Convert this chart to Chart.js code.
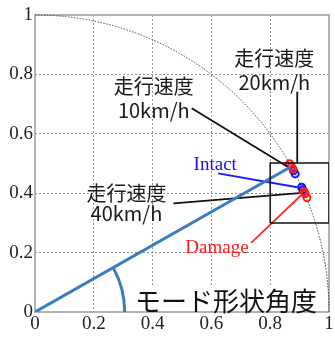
<!DOCTYPE html>
<html>
<head>
<meta charset="utf-8">
<script src="https://cdn.jsdelivr.net/npm/chart.js@4/dist/chart.umd.min.js"></script>
<style>
  body { margin: 0; background: #fff; }
  #wrap { width: 335px; height: 338px; }
</style>
</head>
<body>
<div id="wrap"><canvas id="modeChart" width="335" height="338"></canvas></div>
<script>
// tick labels
const tickVals = [0, 0.2, 0.4, 0.6, 0.8, 1];
const tickLabels = ['0', '0.2', '0.4', '0.6', '0.8', '1'];

// mode shape points
const intactX = [0.879, 0.885, 0.907, 0.911];
const intactY = [0.476, 0.465, 0.420, 0.412];
const damageX = [0.866, 0.872, 0.877, 0.915, 0.919, 0.925];
const damageY = [0.499, 0.490, 0.482, 0.406, 0.398, 0.385];

// line from origin showing the angle
const angleLineX = [0, 0.869];
const angleLineY = [0, 0.488];
const angleArcR = 0.305;

// zoom box
const boxX = [0.8, 1.0, 1.0, 0.8, 0.8];
const boxY = [0.3, 0.3, 0.502, 0.502, 0.3];

// leader lines
const lead20X = [0.892, 0.892];
const lead20Y = [0.742, 0.502];
const lead10X = [0.533, 0.859];
const lead10Y = [0.686, 0.489];
const lead40X = [0.471, 0.899];
const lead40Y = [0.366, 0.400];
const leadIntactX = [0.623, 0.892];
const leadIntactY = [0.467, 0.420];
const leadDamageX = [0.735, 0.906];
const leadDamageY = [0.233, 0.394];

// annotations [text, x, y]
const speedLabels = [
  ['走行速度', 0.814, 0.854], ['20km/h', 0.814, 0.772],
  ['走行速度', 0.404, 0.759], ['10km/h', 0.404, 0.678],
  ['走行速度', 0.311, 0.400], ['40km/h', 0.311, 0.332]
];
const intactLabel = ['Intact', 0.613, 0.495];
const damageLabel = ['Damage', 0.619, 0.216];
const angleLabel = ['モード形状角度', 0.650, 0.035];

function pts(xs, ys) {
  return xs.map((x, i) => ({ x: x, y: ys[i] }));
}

function lineSet(xs, ys, color, width) {
  return {
    data: pts(xs, ys),
    showLine: true,
    borderColor: color,
    borderWidth: width,
    pointRadius: 0,
    fill: false
  };
}

const drawExtras = {
  id: 'drawExtras',
  beforeDatasetsDraw(chart) {
    const ctx = chart.ctx;
    const xs = chart.scales.x, ys = chart.scales.y;
    const ca = chart.chartArea;
    const x0 = xs.getPixelForValue(0), y0 = ys.getPixelForValue(0);
    const rx = xs.getPixelForValue(1) - x0, ry = y0 - ys.getPixelForValue(1);

    ctx.save();
    // frame
    ctx.strokeStyle = '#9a9a9a';
    ctx.lineWidth = 1.5;
    ctx.strokeRect(ca.left, ca.top, ca.right - ca.left, ca.bottom - ca.top);

    // unit circle
    ctx.strokeStyle = '#444';
    ctx.lineWidth = 1;
    ctx.setLineDash([1.5, 1.5]);
    ctx.beginPath();
    ctx.ellipse(x0, y0, rx, ry, 0, -Math.PI / 2, 0);
    ctx.stroke();
    ctx.setLineDash([]);

    // angle arc
    const ang = Math.atan2(angleLineY[1], angleLineX[1]);
    ctx.strokeStyle = '#3a7dbf';
    ctx.lineWidth = 3;
    ctx.beginPath();
    ctx.ellipse(x0, y0, rx * angleArcR, ry * angleArcR, 0, -ang, 0);
    ctx.stroke();
    ctx.restore();
  },
  afterDatasetsDraw(chart) {
    const ctx = chart.ctx;
    const xs = chart.scales.x, ys = chart.scales.y;
    ctx.save();
    ctx.textAlign = 'center';
    ctx.textBaseline = 'middle';

    ctx.fillStyle = '#1a1a1a';
    ctx.font = '20px "Noto Sans CJK JP"';
    speedLabels.forEach(l => {
      ctx.fillText(l[0], xs.getPixelForValue(l[1]), ys.getPixelForValue(l[2]));
    });

    ctx.font = '19px "Liberation Serif"';
    ctx.fillStyle = '#1010ff';
    ctx.fillText(intactLabel[0], xs.getPixelForValue(intactLabel[1]), ys.getPixelForValue(intactLabel[2]));
    ctx.fillStyle = '#ff1a1a';
    ctx.fillText(damageLabel[0], xs.getPixelForValue(damageLabel[1]), ys.getPixelForValue(damageLabel[2]));

    // big label with white background
    ctx.font = '26px "Noto Sans CJK JP"';
    const ax = xs.getPixelForValue(angleLabel[1]);
    const ay = ys.getPixelForValue(angleLabel[2]);
    const w = ctx.measureText(angleLabel[0]).width;
    ctx.fillStyle = '#fff';
    ctx.fillRect(ax - w / 2 - 3, ay - 16, w + 6, ys.getPixelForValue(0) - (ay - 16) - 1);
    ctx.fillStyle = '#111';
    ctx.fillText(angleLabel[0], ax, ay);
    ctx.restore();
  }
};

const gridColor = ctx => (ctx.tick && (ctx.tick.value === 0 || ctx.tick.value === 1)) ? 'rgba(0,0,0,0)' : '#7a7a7a';

const tickFont = { family: '"Liberation Serif"', size: 19 };

new Chart(document.getElementById('modeChart').getContext('2d'), {
  type: 'scatter',
  data: {
    datasets: [
      lineSet(boxX, boxY, '#111', 1.5),
      lineSet(angleLineX, angleLineY, '#3a7dbf', 3),
      lineSet(lead20X, lead20Y, '#111', 1.8),
      lineSet(lead10X, lead10Y, '#111', 1.8),
      lineSet(lead40X, lead40Y, '#111', 1.8),
      lineSet(leadIntactX, leadIntactY, '#1a1aff', 1.8),
      lineSet(leadDamageX, leadDamageY, '#ff2a2a', 1.8),
      {
        label: 'Damage',
        data: pts(damageX, damageY),
        pointRadius: 3.5,
        pointBorderWidth: 2,
        borderColor: '#ff1a1a',
        backgroundColor: 'rgba(255,255,255,0)'
      },
      {
        label: 'Intact',
        data: pts(intactX, intactY),
        pointRadius: 3.5,
        pointBorderWidth: 2,
        borderColor: '#1010ff',
        backgroundColor: 'rgba(255,255,255,0)'
      }
    ]
  },
  options: {
    responsive: false,
    animation: false,
    layout: { padding: { top: 15, right: 3, left: 0, bottom: 0 } },
    plugins: { legend: { display: false }, tooltip: { enabled: false } },
    scales: {
      x: {
        type: 'linear',
        min: 0, max: 1,
        afterBuildTicks: s => { s.ticks = tickVals.map(v => ({ value: v })); },
        afterFit: s => { s.height = 26; s.paddingLeft = 0; s.paddingRight = 0; },
        grid: { color: gridColor, lineWidth: 0.8, drawTicks: false },
        border: { display: false, dash: [2, 2] },
        ticks: {
          padding: 1,
          maxRotation: 0,
          color: '#222',
          font: tickFont,
          callback: (v, i) => tickLabels[i]
        }
      },
      y: {
        type: 'linear',
        min: 0, max: 1,
        afterBuildTicks: s => { s.ticks = tickVals.map(v => ({ value: v })); },
        afterFit: s => { s.width = 35; },
        grid: { color: gridColor, lineWidth: 0.8, drawTicks: false },
        border: { display: false, dash: [2, 2] },
        ticks: {
          padding: 2,
          color: '#222',
          font: tickFont,
          callback: (v, i) => tickLabels[i]
        }
      }
    }
  },
  plugins: [drawExtras]
});
</script>
</body>
</html>
